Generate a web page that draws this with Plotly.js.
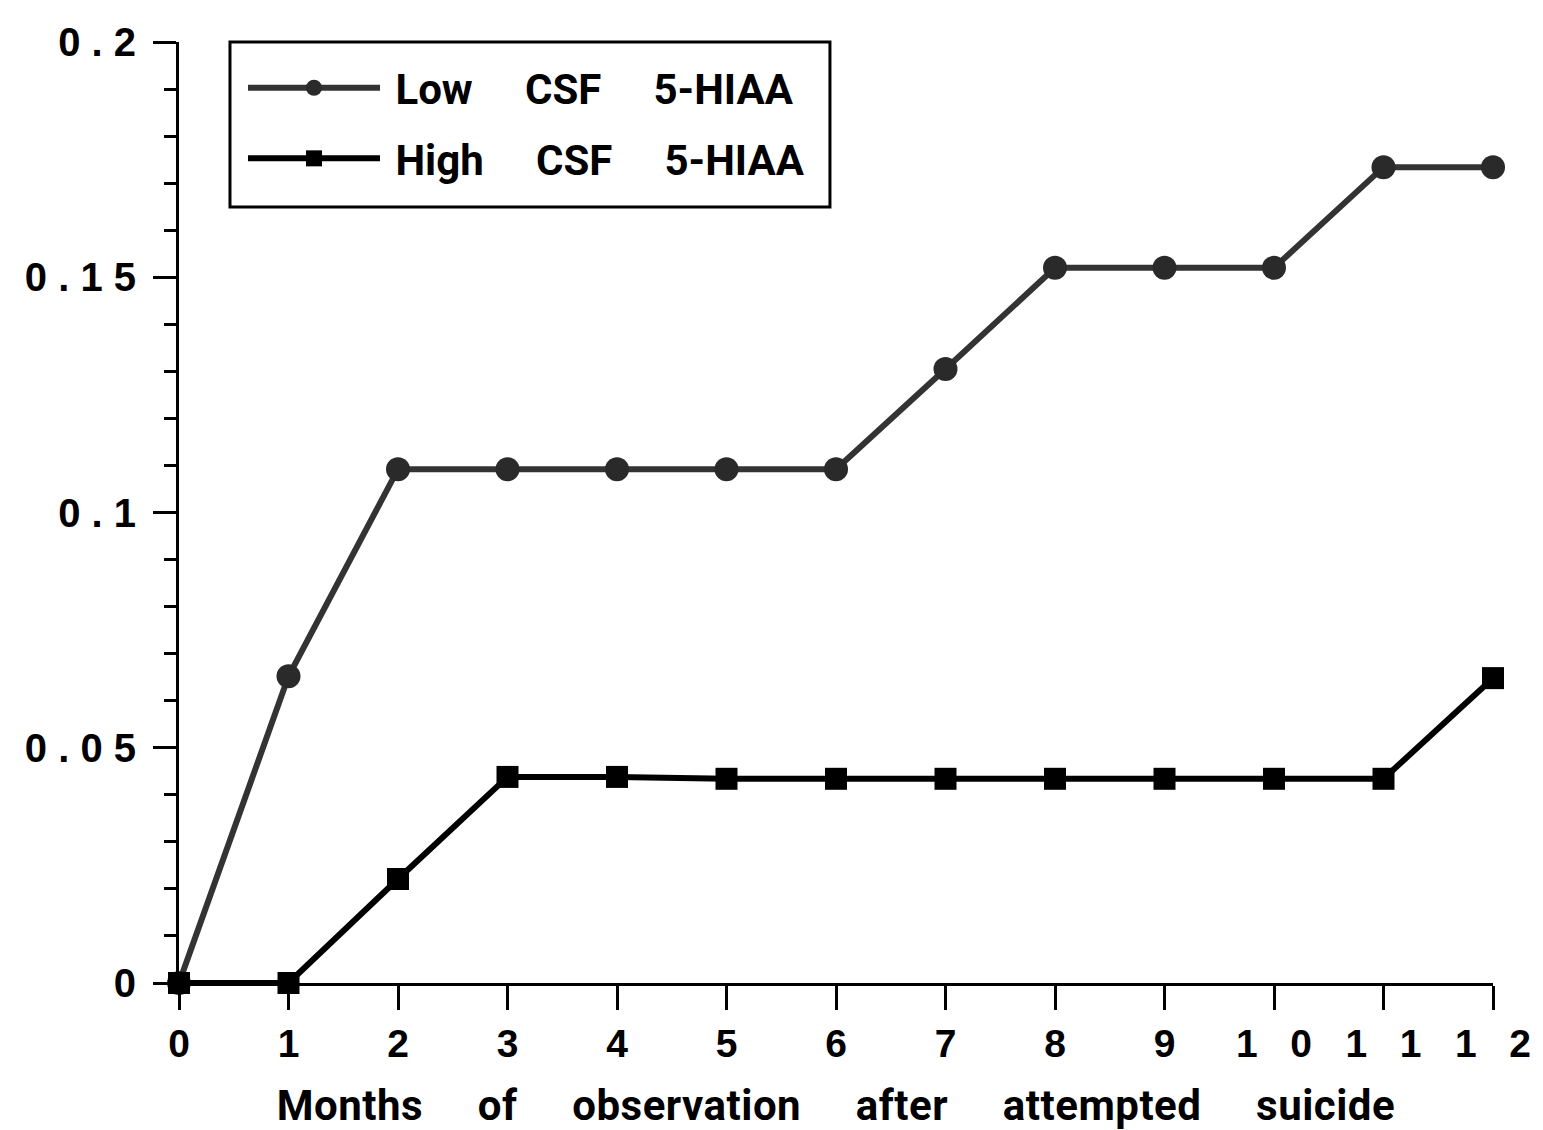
<!DOCTYPE html>
<html>
<head>
<meta charset="utf-8">
<script src="https://cdn.plot.ly/plotly-3.0.1.min.js"></script>
<style>
html,body{margin:0;padding:0;background:#fff;}
#chart{width:1543px;height:1130px;}
.g-xtitle text { letter-spacing: 0.5px; }
</style>
</head>
<body>
<div id="chart"></div>
<script>
const months = [0,1,2,3,4,5,6,7,8,9,10,11,12];
const lowCSF = [0,0.0652,0.1092,0.1092,0.1092,0.1092,0.1092,0.1305,0.152,0.152,0.152,0.1734,0.1734];
const highCSF = [0,0,0.0221,0.0438,0.0438,0.0434,0.0434,0.0434,0.0434,0.0434,0.0434,0.0434,0.0648];
const xTickVals = [0,1,2,3,4,5,6,7,8,9,10,11,12];
const xTickText = ['0','1','2','3','4','5','6','7','8','9','1\u00A0\u00A0\u00A00','1\u00A0\u00A0\u00A01','1\u00A0\u00A0\u00A02'];
const yTickVals = [0,0.05,0.1,0.15,0.2];
const yTickText = ['0','0 . 0 5','0 . 1','0 . 1 5','0 . 2'];
const NB = n => '\u00A0'.repeat(n);
const seriesNames = [NB(1)+'Low'+NB(5)+'CSF'+NB(5)+'5-HIAA', NB(1)+'High'+NB(5)+'CSF'+NB(5)+'5-HIAA'];
const xTitle = ['Months','of','observation','after','attempted','suicide'].join(NB(5));

const narrowBold = 'Roboto, "Liberation Sans", sans-serif';
const bold = '"Liberation Sans", Arial, sans-serif';

const traces = [
  {x: months, y: lowCSF, name: seriesNames[0], legendgroup:'a', mode:'lines+markers', cliponaxis:false,
   line:{color:'#333', width:6}, marker:{symbol:'circle', size:24, color:'#2a2a2a'}},
  {x: months, y: highCSF, name: seriesNames[1], legendgroup:'b', mode:'lines+markers', cliponaxis:false,
   line:{color:'#000', width:6}, marker:{symbol:'square', size:22, color:'#000'}}
];

const layout = {
  width:1543, height:1130,
  margin:{l:179, r:50, t:42, b:147},
  paper_bgcolor:'#fff', plot_bgcolor:'#fff',
  showlegend:true,
  shapes:[{type:'rect', xref:'paper', yref:'paper', x0:0.0388, x1:0.4954, y0:0.8247, y1:1.0,
    line:{color:'#000', width:3}, fillcolor:'rgba(0,0,0,0)', layer:'above'}],
  legend:{x:0.0487, y:0.9873, xanchor:'left', yanchor:'top', bgcolor:'rgba(0,0,0,0)',
    borderwidth:0, itemwidth:132, tracegroupgap:13, traceorder:'grouped',
    font:{family:narrowBold, size:42, color:'#000', weight:'bold'}},
  xaxis:{range:[0,12], showgrid:false, zeroline:false, showline:true, linecolor:'#000', linewidth:3,
    ticks:'outside', ticklen:24, tickwidth:3, tickcolor:'#000',
    tickvals:xTickVals, ticktext:xTickText,
    tickfont:{family:bold, size:39, color:'#000', weight:'bold'},
    title:{text:xTitle, font:{family:narrowBold, size:42, color:'#000', weight:'bold'}, standoff:28}},
  yaxis:{range:[0,0.2], showgrid:false, zeroline:false, showline:true, linecolor:'#000', linewidth:3,
    ticks:'outside', ticklen:23, tickwidth:3, tickcolor:'#000',
    tickvals:yTickVals, ticktext:yTickText, ticklabelstandoff:9,
    tickfont:{family:bold, size:40, color:'#000', weight:'bold'},
    minor:{dtick:0.01, ticks:'outside', ticklen:12, tickwidth:3, tickcolor:'#000', showgrid:false}}
};

Plotly.newPlot('chart', traces, layout, {displayModeBar:false, staticPlot:true});
</script>
</body>
</html>
